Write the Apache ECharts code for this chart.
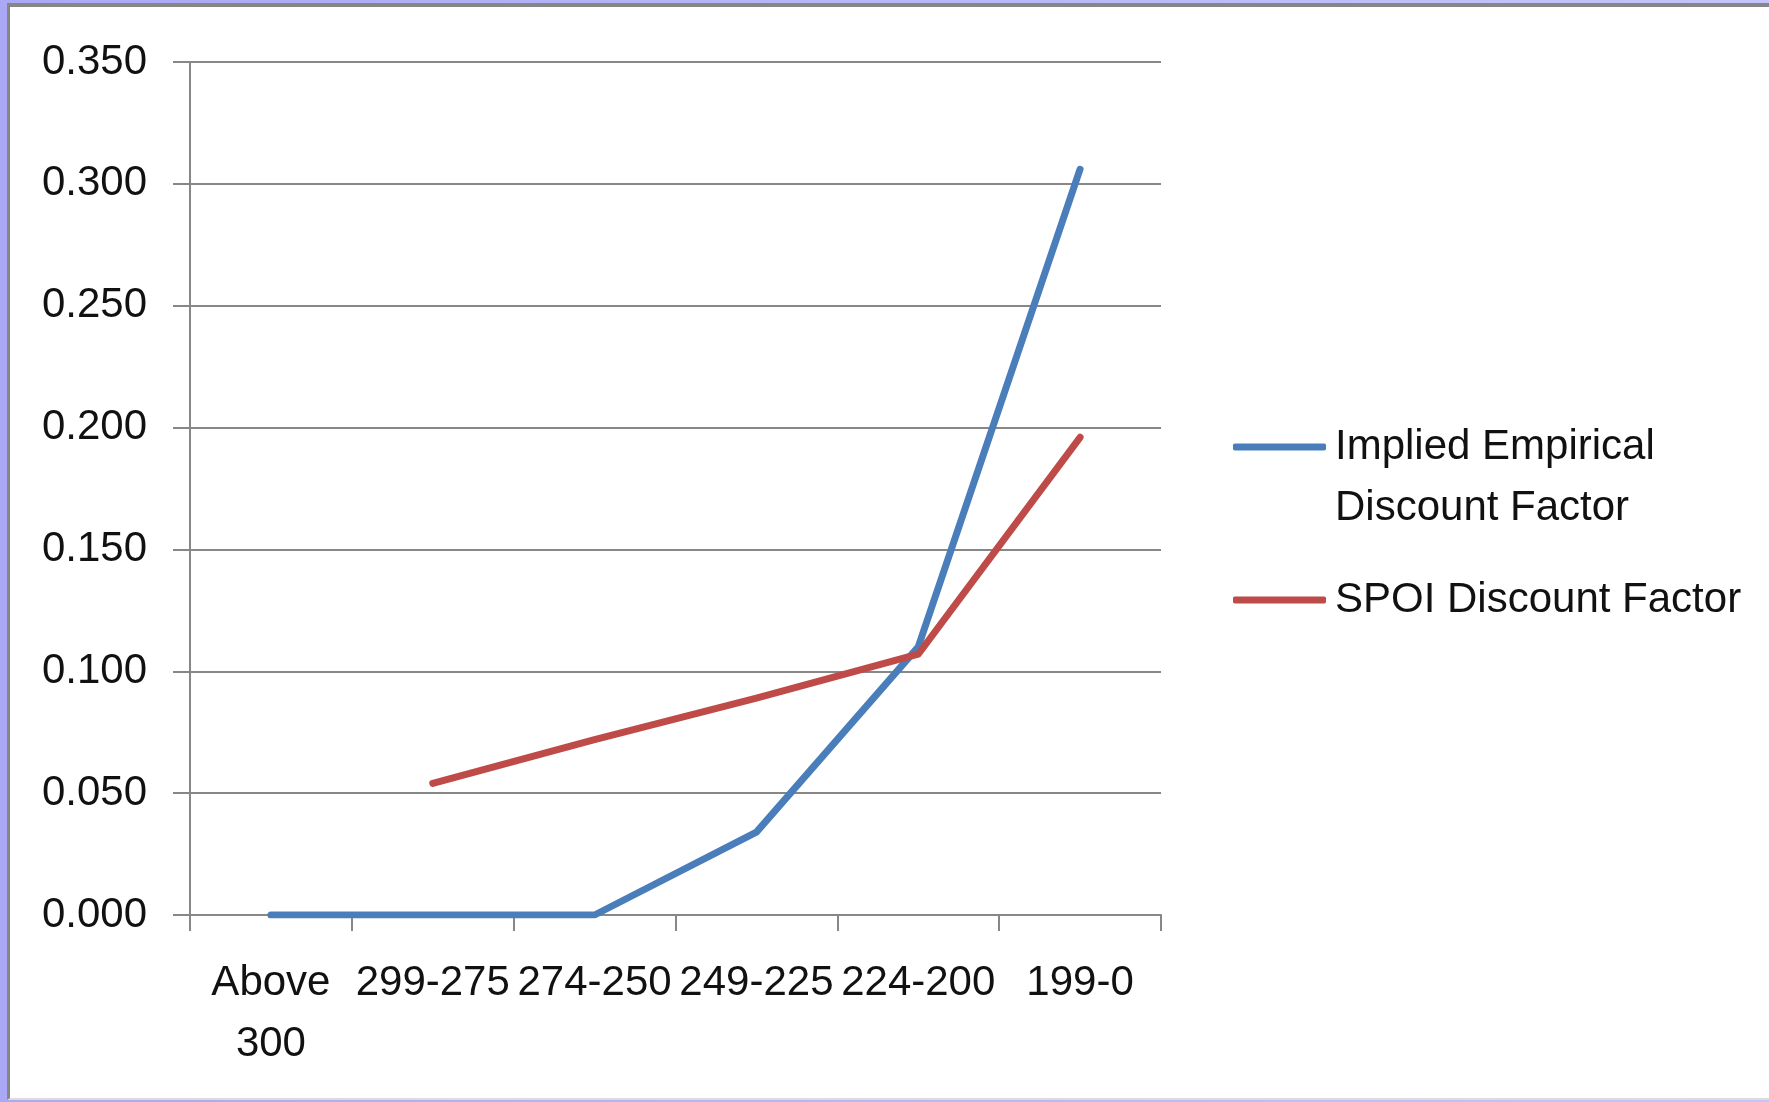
<!DOCTYPE html>
<html>
<head>
<meta charset="utf-8">
<script src="https://cdn.jsdelivr.net/npm/echarts@6/dist/echarts.min.js"></script>
<style>
  html, body { margin: 0; padding: 0; width: 1769px; height: 1102px; overflow: hidden;
    background: linear-gradient(to right, #a9a9f5, #c4c4fb); }
  #frame { position: absolute; left: 7px; top: 3px; width: 1800px; height: 1097px;
    background: #fff; border-left: 3px solid #868686; border-top: 4px solid #868686;
    border-bottom: 2px solid #dcdcdc; box-sizing: border-box; }
  #chart { position: absolute; left: 0; top: 0; width: 1769px; height: 1102px; }
</style>
</head>
<body>
<div id="frame"></div>
<div id="chart"></div>
<script>
const categories = ['Above\n300', '299-275', '274-250', '249-225', '224-200', '199-0'];
const impliedEmpirical = [0.000, 0.000, 0.000, 0.034, 0.110, 0.306];
const spoiDiscount = [null, 0.054, 0.072, 0.089, 0.107, 0.196];
const seriesNames = ['Implied Empirical Discount Factor', 'SPOI Discount Factor'];
const yTicks = { min: 0, max: 0.35, interval: 0.05 };

const FONT = "'Liberation Sans', Arial, sans-serif";
const FS = 42;
const chart = echarts.init(document.getElementById('chart'), null, { renderer: 'canvas' });
chart.setOption({
  backgroundColor: 'transparent',
  animation: false,
  textStyle: { fontFamily: FONT },
  grid: { left: 190, right: 608, top: 62, bottom: 187, containLabel: false },
  xAxis: {
    type: 'category',
    data: categories,
    boundaryGap: true,
    axisLine: { show: true, lineStyle: { color: '#878787', width: 2 } },
    axisTick: { show: true, length: 16, alignWithLabel: false, lineStyle: { color: '#878787', width: 2 } },
    axisLabel: { interval: 0, margin: 38, color: '#111', fontSize: FS, lineHeight: 61, fontFamily: FONT },
    splitLine: { show: false }
  },
  yAxis: {
    type: 'value',
    min: yTicks.min, max: yTicks.max, interval: yTicks.interval,
    axisLine: { show: true, lineStyle: { color: '#878787', width: 2 } },
    axisTick: { show: true, length: 17, lineStyle: { color: '#878787', width: 2 } },
    axisLabel: { margin: 43, color: '#111', fontSize: FS, fontFamily: FONT,
      formatter: v => v.toFixed(3) },
    splitLine: { show: true, lineStyle: { color: '#878787', width: 2 } }
  },
  legend: [
    {
      data: [{ name: seriesNames[0], icon: 'roundRect' }],
      orient: 'vertical', left: 1233, top: 355.5, padding: 0,
      itemWidth: 93, itemHeight: 7, selectedMode: false,
      formatter: () => '\nImplied Empirical\nDiscount Factor',
      textStyle: { fontSize: FS, lineHeight: 61, color: '#111', fontFamily: FONT, padding: [0, 0, 0, 4] }
    },
    {
      data: [{ name: seriesNames[1], icon: 'roundRect' }],
      orient: 'vertical', left: 1233, top: 569.5, padding: 0,
      itemWidth: 93, itemHeight: 7, selectedMode: false,
      textStyle: { fontSize: FS, lineHeight: 61, color: '#111', fontFamily: FONT, padding: [0, 0, 0, 4] }
    }
  ],
  series: [
    {
      name: seriesNames[0], type: 'line', data: impliedEmpirical,
      showSymbol: false, symbol: 'none',
      lineStyle: { color: '#4A7EBB', width: 7, cap: 'round', join: 'round' },
      itemStyle: { color: '#4A7EBB' }
    },
    {
      name: seriesNames[1], type: 'line', data: spoiDiscount,
      showSymbol: false, symbol: 'none',
      lineStyle: { color: '#BE4B48', width: 7, cap: 'round', join: 'round' },
      itemStyle: { color: '#BE4B48' }
    }
  ]
});
</script>
</body>
</html>
